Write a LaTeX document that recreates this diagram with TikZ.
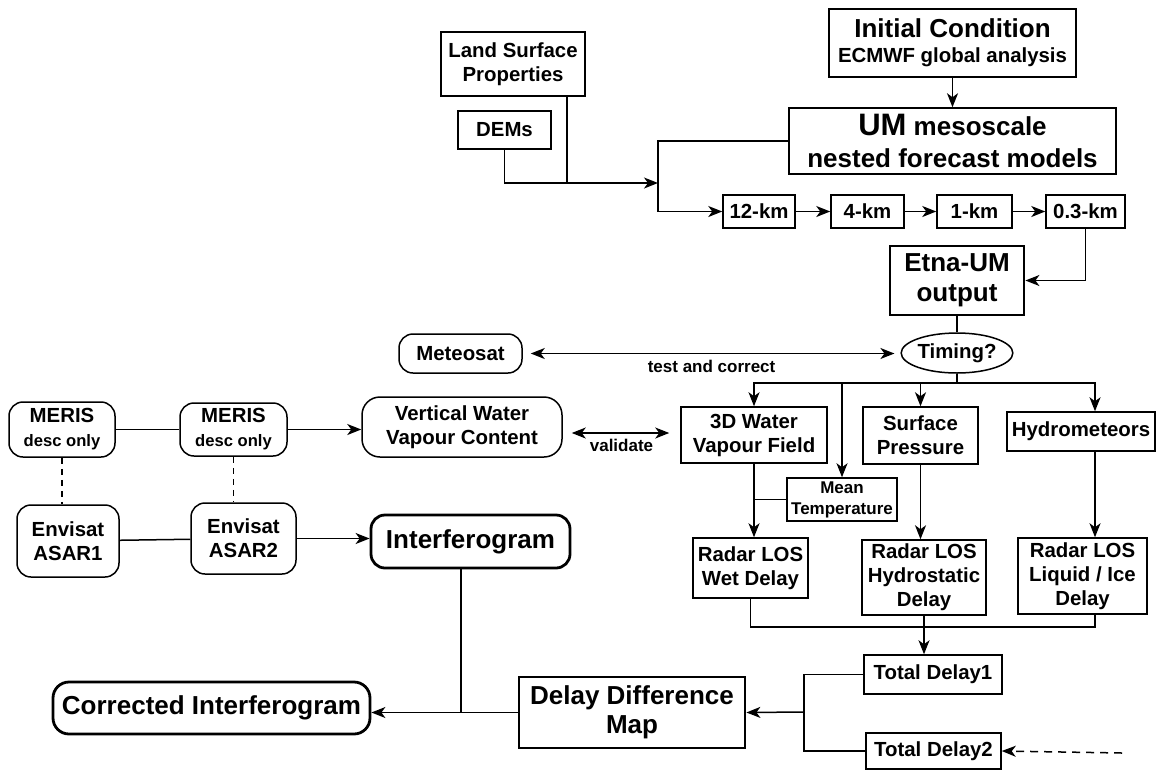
\documentclass[tikz,border=0pt]{standalone}
\usepackage{fontspec}
\setmainfont{Liberation Sans}
\usetikzlibrary{arrows.meta,shapes.geometric}

\begin{document}
\begin{tikzpicture}[x=1pt, y=-1pt,
	font=\fontsize{20.4}{24}\selectfont\bfseries,
	line width=1.5pt,
	box/.style={draw, align=center, inner sep=0pt},
	rbox/.style={box, rounded corners=14pt},
	heavy/.style={box, line width=2.8pt},
	arr/.style={-{Stealth[length=14pt,width=11pt,inset=4pt]}},
	darr/.style={{Stealth[length=14pt,width=11pt,inset=4pt]}-{Stealth[length=14pt,width=11pt,inset=4pt]}},
	small/.style={font=\fontsize{17}{21}\selectfont\bfseries}]
	\useasboundingbox (0,0) rectangle (1159,772);

	% model chain
	\node[box, minimum width=144pt, minimum height=64pt] (land) at (513,64) {Land Surface\\Properties};
	\node[box, minimum width=93pt, minimum height=38pt] (dems) at (504.5,130) {DEMs};
	\node[box, minimum width=247pt, minimum height=68pt, font=\fontsize{20.4}{25}\selectfont\bfseries] (init) at (952.5,43) {{\fontsize{26}{25}\selectfont Initial Condition}\\ECMWF global analysis};
	\node[box, minimum width=327pt, minimum height=66pt, font=\fontsize{26}{32}\selectfont\bfseries] (um) at (952.5,141) {{\fontsize{31}{32}\selectfont UM} mesoscale\\nested forecast models};

	\node[box, minimum width=72pt, minimum height=33pt] (km12) at (759,211.5) {12-km};
	\node[box, minimum width=73pt, minimum height=33pt] (km4) at (867.5,211.5) {4-km};
	\node[box, minimum width=75pt, minimum height=33pt] (km1) at (974.5,211.5) {1-km};
	\node[box, minimum width=79pt, minimum height=33pt] (km03) at (1085.5,211.5) {0.3-km};

	\node[heavy, minimum width=134pt, minimum height=69pt, font=\fontsize{26}{30}\selectfont\bfseries] (etna) at (957,280.5) {Etna-UM\\output};
	\node[draw, ellipse, inner sep=0pt, minimum width=102pt, minimum height=40pt] (timing) at (957,353) {Timing?};

	% model fields
	\node[box, minimum width=146pt, minimum height=56pt] (w3d) at (754,435) {3D Water\\Vapour Field};
	\node[box, minimum width=115pt, minimum height=57pt] (sp) at (920.5,435.5) {Surface\\Pressure};
	\node[box, minimum width=148pt, minimum height=39pt] (hyd) at (1081,431.5) {Hydrometeors};
	\node[box, minimum width=110pt, minimum height=43pt, font=\fontsize{17}{21}\selectfont\bfseries] (mt) at (842,499.5) {Mean\\Temperature};

	\node[box, minimum width=115pt, minimum height=60pt] (wet) at (750.5,568) {Radar LOS\\Wet Delay};
	\node[box, minimum width=124pt, minimum height=75pt] (hst) at (924,577.5) {Radar LOS\\Hydrostatic\\Delay};
	\node[box, minimum width=129pt, minimum height=76pt] (liq) at (1082.5,576) {Radar LOS\\Liquid / Ice\\Delay};

	\node[box, minimum width=138pt, minimum height=39pt] (td1) at (933,674.5) {Total Delay1};
	\node[box, minimum width=135pt, minimum height=36pt] (td2) at (933.5,751) {Total Delay2};
	\node[heavy, minimum width=226pt, minimum height=71pt, font=\fontsize{26}{29}\selectfont\bfseries] (ddm) at (632,712.5) {Delay Difference\\Map};

	% satellites
	\node[rbox, minimum width=123pt, minimum height=39pt] (meteo) at (460.5,353.5) {Meteosat};
	\node[rbox, minimum width=106pt, minimum height=55pt] (meris1) at (62,429.5) {MERIS\\{\fontsize{16.6}{20}\selectfont desc only}};
	\node[rbox, minimum width=107pt, minimum height=53pt] (meris2) at (233.5,429.5) {MERIS\\{\fontsize{16.6}{20}\selectfont desc only}};
	\node[rbox, minimum width=200pt, minimum height=60pt, rounded corners=18pt] (vwv) at (462,427) {Vertical Water\\Vapour Content};
	\node[rbox, minimum width=102pt, minimum height=72pt] (env1) at (68,541) {Envisat\\ASAR1};
	\node[rbox, minimum width=105pt, minimum height=71pt] (env2) at (243.5,538.5) {Envisat\\ASAR2};
	\node[heavy, rounded corners=14pt, minimum width=199pt, minimum height=53pt, font=\fontsize{26}{30}\selectfont\bfseries] (ifg) at (470.5,541.5) {Interferogram};
	\node[heavy, rounded corners=16pt, minimum width=317pt, minimum height=52pt, font=\fontsize{26}{30}\selectfont\bfseries] (corr) at (211.5,708) {Corrected Interferogram};

	\coordinate (bar) at (658,183);
	\coordinate (j1) at (567,183);
	\coordinate (bus) at (957,383);
	\coordinate (hx) at (1095,520);
	\coordinate (bb) at (926,627);
	\coordinate (vy) at (600,433);
	\coordinate (j2) at (461,712);
	\coordinate (br) at (804,712);
	\coordinate (d2) at (1122,753);

	\draw[arr] (dems.south) |- (bar);
	\draw (land.south -| j1) -- (j1);
	\draw[arr] (um.west) -| (bar |- km12.west) -- (km12.west);
	\draw[arr] (init.south) -- (um.north);
	\draw[arr] (km12) -- (km4);
	\draw[arr] (km4) -- (km1);
	\draw[arr] (km1) -- (km03);
	\draw[arr] (km03.south) |- (etna.east);
	\draw (etna.south) -- (timing.north);

	\draw (timing.south) -- (bus);
	\draw[arr] (bus) -| (w3d.north);
	\draw[arr] (bus) -| (mt.north);
	\draw[arr] (bus) -| (sp.north);
	\draw[arr] (bus) -| (hx |- hyd.north);
	\draw[darr, shorten <=8pt, shorten >=6pt] (meteo.east) -- (meteo.east -| timing.west) node[midway, below=3pt, small] {test and correct};

	\draw[arr] (w3d.south) -- (w3d.south |- wet.north);
	\draw (mt.west) -- (mt.west -| w3d.south);
	\draw[arr] (sp.south) -- (sp.south |- hst.north);
	\draw[arr] (hx |- hyd.south) -- (hx |- liq.north);
	\draw (wet.south) |- (hx |- bb) -- (hx |- liq.south);
	\draw[arr] (hst.south) -- (hst.south |- td1.north);

	\draw (td1.west) -| (br) |- (td2.west);
	\draw[arr] (br) -- (ddm.east);
	\draw[arr, dashed, dash pattern=on 8pt off 6pt] (d2) -- (td2.east);
	\draw[arr] (ddm.west) -- (ddm.west -| corr.east);
	\draw (ifg.south -| j2) -- (j2);

	\draw (meris1) -- (meris2);
	\draw[arr] (meris2.east) -- (meris2.east -| vwv.west);
	\draw[darr, shorten <=9pt, shorten >=11pt] (vwv.east |- vy) -- (w3d.west |- vy) node[midway, below=2pt, small] {validate};
	\draw[dashed, dash pattern=on 6pt off 5pt] (meris1.south) -- (meris1.south |- env1.north);
	\draw[dashed, dash pattern=on 6pt off 5pt] (meris2.south) -- (meris2.south |- env2.north);
	\draw (env1) -- (env2);
	\draw[arr] (env2.east) -- (env2.east -| ifg.west);
\end{tikzpicture}
\end{document}
